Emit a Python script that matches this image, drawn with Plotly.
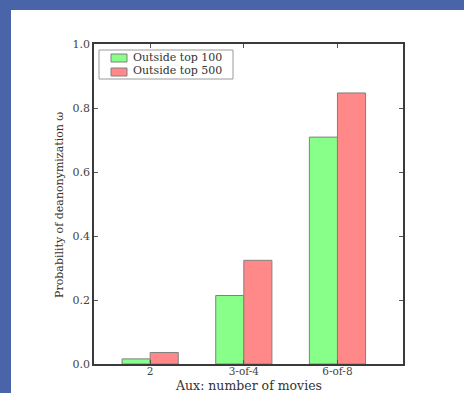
import plotly.graph_objects as go

categories = ["2", "3-of-4", "6-of-8"]
top100 = [0.016, 0.214, 0.709]
top500 = [0.036, 0.324, 0.847]
series_names = ["Outside top 100", "Outside top 500"]
colors = ["#88ff88", "#ff8888"]

idx = list(range(len(categories)))
bw = 0.3

fig = go.Figure()
fig.add_trace(go.Bar(x=idx, y=top100, name=series_names[0], width=bw, offset=0,
                     marker=dict(color=colors[0], line=dict(color="#808080", width=1))))
fig.add_trace(go.Bar(x=idx, y=top500, name=series_names[1], width=bw, offset=bw,
                     marker=dict(color=colors[1], line=dict(color="#808080", width=1))))

W, H = 464, 393
L, R, T, B = 94, 61, 44, 29
pw, ph = W - L - R, H - T - B


def px(x):
    return (x - L) / pw


def py(y):
    return (H - B - y) / ph


txt = "#333333"
tick_txt = "#444444"
fig.update_layout(
    width=W, height=H,
    margin=dict(l=L, r=R, t=T, b=B, pad=0),
    paper_bgcolor="#4a64aa",
    plot_bgcolor="white",
    font=dict(family="DejaVu Serif", size=11, color=txt),
    barmode="overlay",
    showlegend=False,
    xaxis=dict(range=[-0.3, 3.0], tickvals=[i + bw for i in idx], ticktext=categories,
               ticks="inside", ticklen=4, tickcolor="#555555", mirror="ticks",
               showline=True, linecolor="#3a3a3a", linewidth=1.5, showgrid=False, zeroline=False,
               automargin=False, tickfont=dict(size=10.5, color=tick_txt), ticklabelstandoff=-3),
    yaxis=dict(range=[0, 1.0], tickvals=[0, 0.2, 0.4, 0.6, 0.8, 1.0],
               ticktext=["0.0", "0.2", "0.4", "0.6", "0.8", "1.0"],
               ticks="inside", ticklen=4, tickcolor="#555555", mirror="ticks",
               showline=True, linecolor="#3a3a3a", linewidth=1.5, showgrid=False, zeroline=False,
               automargin=False, tickfont=dict(size=11, color=tick_txt)),
    shapes=[
        dict(type="rect", xref="paper", yref="paper", x0=px(11), x1=px(470),
             y0=py(400), y1=py(10), fillcolor="white", line=dict(width=0), layer="below"),
        dict(type="rect", xref="paper", yref="paper", x0=px(99), x1=px(233),
             y0=py(79), y1=py(50), fillcolor="white", line=dict(color="#9a9a9a", width=1)),
        dict(type="rect", xref="paper", yref="paper", x0=px(111), x1=px(127),
             y0=py(62), y1=py(54), fillcolor=colors[0], line=dict(color="#808080", width=1)),
        dict(type="rect", xref="paper", yref="paper", x0=px(111), x1=px(127),
             y0=py(76), y1=py(68), fillcolor=colors[1], line=dict(color="#808080", width=1)),
    ],
    annotations=[
        dict(text=series_names[0], xref="paper", yref="paper", x=px(131), y=py(57),
             xanchor="left", yanchor="middle", showarrow=False, font=dict(size=11, color=txt)),
        dict(text=series_names[1], xref="paper", yref="paper", x=px(131), y=py(70.5),
             xanchor="left", yanchor="middle", showarrow=False, font=dict(size=11, color=txt)),
        dict(text="Aux: number of movies", xref="paper", yref="paper", x=px(248), y=py(385),
             xanchor="center", yanchor="middle", showarrow=False, font=dict(size=12.5, color=txt)),
        dict(text="Probability of deanonymization ω", xref="paper", yref="paper", x=px(59),
             y=py(205), xanchor="center", yanchor="middle", textangle=-90, showarrow=False,
             font=dict(size=11, color=txt)),
    ],
)

fig.write_html("out.html", config={"displayModeBar": False},
               post_script="document.body.style.margin='0';document.body.style.overflow='hidden';")
